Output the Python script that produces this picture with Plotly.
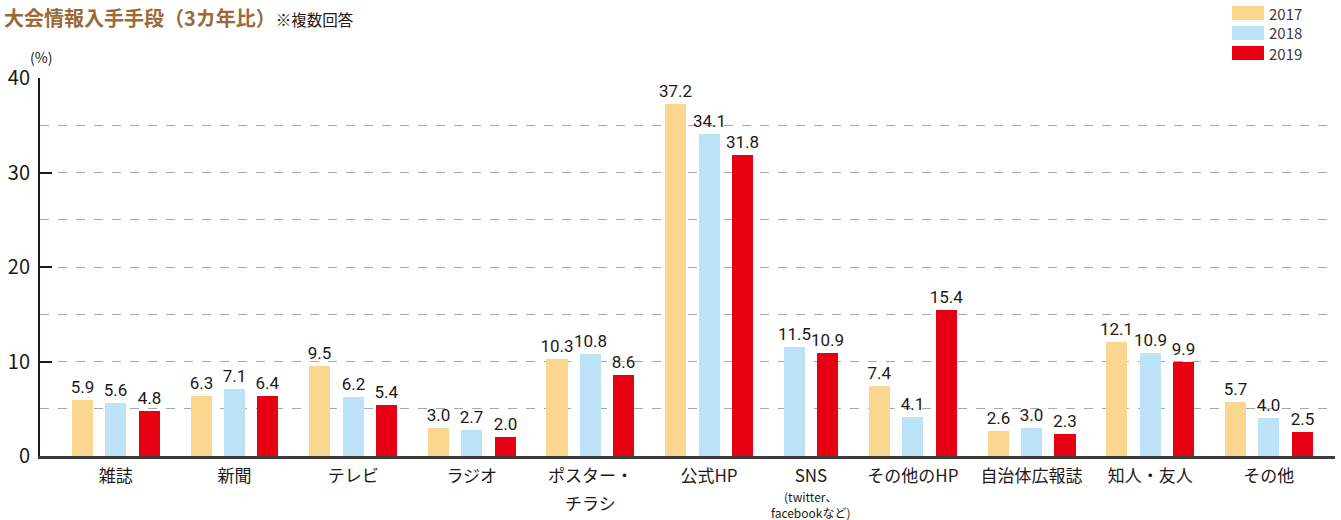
import plotly.graph_objects as go

categories = ["雑誌", "新聞", "テレビ", "ラジオ", "ポスター・", "公式HP",
              "SNS", "その他のHP", "自治体広報誌", "知人・友人", "その他"]
second_lines = {"ポスター・": "チラシ"}
sns_note = "(twitter、<br>facebookなど)"
years = ["2017", "2018", "2019"]
v2017 = [5.9, 6.3, 9.5, 3.0, 10.3, 37.2, None, 7.4, 2.6, 12.1, 5.7]
v2018 = [5.6, 7.1, 6.2, 2.7, 10.8, 34.1, 11.5, 4.1, 3.0, 10.9, 4.0]
v2019 = [4.8, 6.4, 5.4, 2.0, 8.6, 31.8, 10.9, 15.4, 2.3, 9.9, 2.5]
series = [v2017, v2018, v2019]
colors = ["#FBD68F", "#BDE3F8", "#E60012"]
yticks = [0, 10, 20, 30, 40]

# layout of bar slots: bars packed per category, gap between groups
GAP = 0.55
positions = [[None] * len(categories) for _ in series]
centers = []
cur = 0.0
for ci in range(len(categories)):
    slots = []
    for si, s in enumerate(series):
        if s[ci] is not None:
            positions[si][ci] = cur
            slots.append(cur)
            cur += 1
    centers.append(sum(slots) / len(slots))
    cur += GAP
last = cur - GAP - 1

W, H = 1341, 520
ML, MR, MT, MB = 40, 6, 78, 64
PW, PH = W - ML - MR, H - MT - MB

def px(x):
    return (x - ML) / PW

def py(y):
    return (H - MB - y) / PH

fig = go.Figure()
for si, s in enumerate(series):
    xs = [positions[si][i] for i in range(len(categories)) if s[i] is not None]
    ys = [v for v in s if v is not None]
    fig.add_trace(go.Bar(
        x=xs, y=ys, name=years[si], width=0.63,
        marker=dict(color=colors[si], line=dict(width=0)),
        text=[f"{v:.1f}" for v in ys], textposition="outside",
        textfont=dict(family="Roboto, sans-serif", size=17, color="#231815"),
        cliponaxis=False, showlegend=False, hoverinfo="skip",
    ))

annotations = [
    dict(xref="paper", yref="paper", x=px(2), y=py(1), xanchor="left", yanchor="top",
         showarrow=False,
         text="<b><span style='font-size:20px;color:#9C6A35'>大会情報入手手段（3カ年比）</span></b>"
              "<span style='font-size:15.5px;color:#231815'>※複数回答</span>"),
    dict(xref="paper", yref="paper", x=px(28), y=py(57), xanchor="left", yanchor="middle",
         showarrow=False, text="(%)", font=dict(size=14, color="#231815")),
    dict(xref="x", yref="paper", x=centers[categories.index("SNS")], y=py(486),
         xanchor="center", yanchor="top", showarrow=False, text=sns_note,
         font=dict(size=12, color="#231815")),
]
for cat, line2 in second_lines.items():
    annotations.append(dict(xref="x", yref="paper", x=centers[categories.index(cat)], y=py(488),
                            xanchor="center", yanchor="top", showarrow=False, text=line2,
                            font=dict(size=17, color="#231815")))

fig.update_layout(
    width=W, height=H,
    margin=dict(l=ML, r=MR, t=MT, b=MB, autoexpand=False),
    paper_bgcolor="white", plot_bgcolor="white",
    font=dict(family="Noto Sans CJK JP, Noto Sans, sans-serif", color="#231815"),
    bargap=0, showlegend=False,
    uniformtext=dict(minsize=17, mode="show"),
    xaxis=dict(
        range=[-1.27, last + 0.98], automargin=False,
        tickmode="array", tickvals=centers, ticktext=categories,
        tickfont=dict(size=17, color="#231815"),
        showgrid=False, zeroline=False,
        showline=True, linecolor="#3e3a39", linewidth=2.5,
        ticks="", ticklabelstandoff=3,
    ),
    yaxis=dict(
        range=[0, 40], tickmode="array", tickvals=yticks, automargin=False,
        tickfont=dict(size=20, color="#231815"),
        showgrid=True, gridcolor="#a8a8a8", griddash="dash", gridwidth=1,
        minor=dict(dtick=5, showgrid=True, gridcolor="#a8a8a8", griddash="dash", gridwidth=1),
        zeroline=False, showline=True, linecolor="#231815", linewidth=2,
        ticks="inside", ticklen=12, tickcolor="#231815", tickwidth=2,
        ticklabelstandoff=4,
    ),
    annotations=annotations,
)

# custom legend
legend_y = [13, 33, 53]
for i, yr in enumerate(years):
    fig.add_shape(type="rect", xref="paper", yref="paper",
                  x0=px(1232), x1=px(1264), y0=py(legend_y[i] - 7), y1=py(legend_y[i] + 7),
                  fillcolor=colors[i], line=dict(width=0))
    fig.add_annotation(xref="paper", yref="paper", x=px(1267), y=py(legend_y[i]),
                       xanchor="left", yanchor="middle", showarrow=False,
                       text=yr, font=dict(size=15, color="#3e3a39"))

fig.write_html("out.html", config={"displayModeBar": False},
               post_script="document.body.style.margin='0';document.body.style.overflow='hidden';")
